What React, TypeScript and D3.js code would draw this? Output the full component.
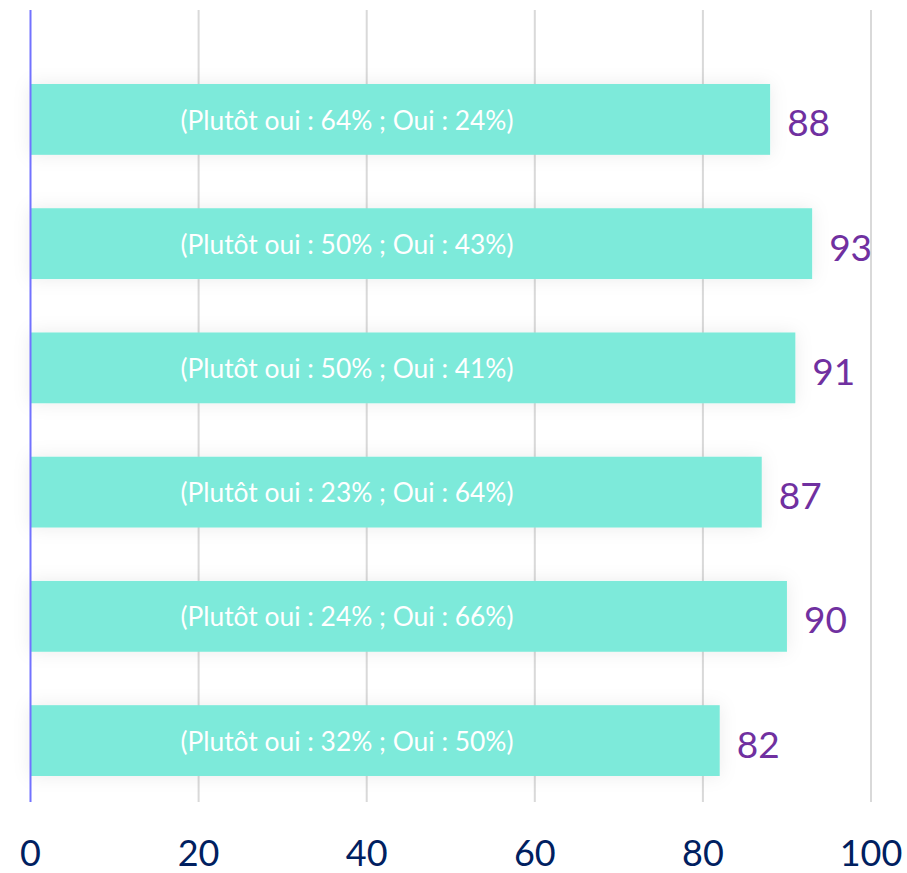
import React, { useRef, useEffect } from "react";
import * as d3 from "d3";

const categories = ["q1", "q2", "q3", "q4", "q5", "q6"];
const totals = [88, 93, 91, 87, 90, 82];
const plutotOui = [64, 50, 50, 23, 24, 32];
const oui = [24, 43, 41, 64, 66, 50];
const ticks = [0, 20, 40, 60, 80, 100];

export default function App() {
  const svgRef = useRef<SVGSVGElement>(null);

  useEffect(() => {
    const svg = d3.select(svgRef.current);
    svg.selectAll("*").remove(); // start fresh

    const width = 907;
    const height = 873;
    const font = "Lato, 'Open Sans', sans-serif";

    const x = d3.scaleLinear().domain([0, 100]).range([30.5, 871]);
    const y = d3
      .scaleBand()
      .domain(categories)
      .range([84, 776])
      .paddingInner(0.43)
      .paddingOuter(0);

    svg.attr("viewBox", [0, 0, width, height]);

    // soft glow under the bars
    const filter = svg
      .append("defs")
      .append("filter")
      .attr("id", "glow")
      .attr("x", "-20%")
      .attr("y", "-60%")
      .attr("width", "140%")
      .attr("height", "220%");
    filter
      .append("feDropShadow")
      .attr("dx", 0)
      .attr("dy", 0)
      .attr("stdDeviation", 9)
      .attr("flood-color", "#000")
      .attr("flood-opacity", 0.08);

    // gridlines
    svg
      .append("g")
      .selectAll("line")
      .data(ticks.slice(1))
      .join("line")
      .attr("x1", (d) => x(d))
      .attr("x2", (d) => x(d))
      .attr("y1", 10)
      .attr("y2", 802)
      .attr("stroke", "#d9d9d9")
      .attr("stroke-width", 2);

    const rows = categories.map((c, i) => ({
      c,
      total: totals[i],
      label: `(Plutôt oui : ${plutotOui[i]}% ; Oui : ${oui[i]}%)`,
    }));

    // bars
    svg
      .append("g")
      .selectAll("rect")
      .data(rows)
      .join("rect")
      .attr("x", x(0))
      .attr("y", (d) => y(d.c)!)
      .attr("width", (d) => x(d.total) - x(0))
      .attr("height", y.bandwidth())
      .attr("fill", "#7deada")
      .attr("filter", "url(#glow)");

    // labels inside bars
    svg
      .append("g")
      .selectAll("text")
      .data(rows)
      .join("text")
      .attr("x", x(0) + 150)
      .attr("y", (d) => y(d.c)! + y.bandwidth() / 2 + 1)
      .attr("dy", "0.35em")
      .attr("fill", "#fff")
      .attr("font-family", font)
      .attr("font-size", 26)
      .attr("textLength", 333)
      .attr("lengthAdjust", "spacingAndGlyphs")
      .text((d) => d.label);

    // totals
    svg
      .append("g")
      .selectAll("text")
      .data(rows)
      .join("text")
      .attr("x", (d) => x(d.total) + 17)
      .attr("y", (d) => y(d.c)! + y.bandwidth() / 2 + 4)
      .attr("dy", "0.35em")
      .attr("fill", "#7030a0")
      .attr("font-family", font)
      .attr("font-size", 37)
      .text((d) => d.total);

    // y axis line
    svg
      .append("line")
      .attr("x1", x(0))
      .attr("x2", x(0))
      .attr("y1", 10)
      .attr("y2", 802)
      .attr("stroke", "#7272ff")
      .attr("stroke-width", 2);

    // x tick labels
    svg
      .append("g")
      .selectAll("text")
      .data(ticks)
      .join("text")
      .attr("x", (d) => x(d))
      .attr("y", 866)
      .attr("text-anchor", "middle")
      .attr("fill", "#002060")
      .attr("font-family", font)
      .attr("font-size", 36)
      .text((d) => d);
  }, []);

  return (
    <svg
      ref={svgRef}
      width={907}
      height={873}
      style={{ position: "absolute", left: 0, top: 0, display: "block" }}
    ></svg>
  );
}
